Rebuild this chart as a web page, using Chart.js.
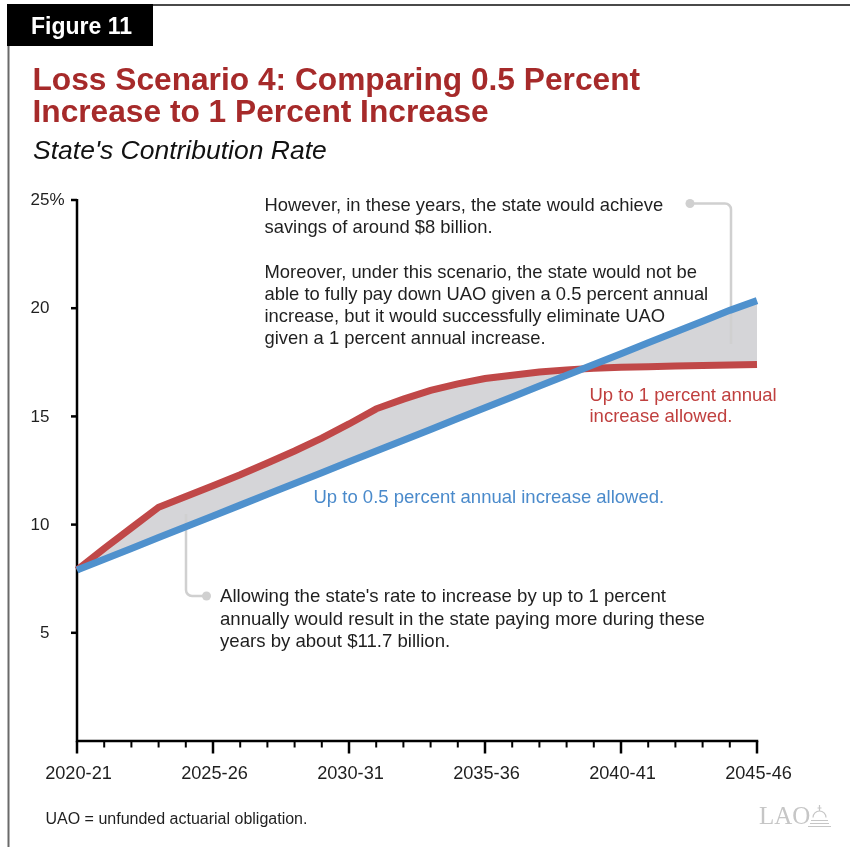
<!DOCTYPE html>
<html>
<head>
<meta charset="utf-8">
<title>Loss Scenario 4</title>
<script src="https://cdn.jsdelivr.net/npm/chart.js@4/dist/chart.umd.min.js"></script>
<style>
  html, body { margin: 0; padding: 0; background: #ffffff; }
  #wrap { width: 850px; height: 847px; position: relative; }
  canvas { display: block; }
</style>
</head>
<body>
<div id="wrap"><canvas id="chart" width="850" height="847"></canvas></div>
<script>
// Fiscal years on the horizontal axis
const seasons = [
  '2020-21', '2021-22', '2022-23', '2023-24', '2024-25', '2025-26',
  '2026-27', '2027-28', '2028-29', '2029-30', '2030-31', '2031-32',
  '2032-33', '2033-34', '2034-35', '2035-36', '2036-37', '2037-38',
  '2038-39', '2039-40', '2040-41', '2041-42', '2042-43', '2043-44',
  '2044-45', '2045-46'
];

// State contribution rate (%) when increases are capped at 0.5 percent a year
const rateHalfPercent = [
  7.9, 8.4, 8.9, 9.4, 9.9, 10.4, 10.9, 11.4, 11.9, 12.4, 12.9, 13.4, 13.9,
  14.4, 14.9, 15.4, 15.9, 16.4, 16.9, 17.4, 17.9, 18.4, 18.9, 19.4, 19.9, 20.35
];

// State contribution rate (%) when increases of up to 1 percent a year are allowed
const rateOnePercent = [
  7.9, 8.9, 9.85, 10.8, 11.3, 11.8, 12.3, 12.85, 13.4, 14.0, 14.65, 15.35, 15.8,
  16.2, 16.5, 16.75, 16.9, 17.05, 17.15, 17.22, 17.27, 17.3, 17.33, 17.35, 17.37, 17.4
];

// Axis tick values and labelled seasons
const yTickValues = [5, 10, 15, 20, 25];
const xLabelSeasons = ['2020-21', '2025-26', '2030-31', '2035-36', '2040-41', '2045-46'];

const SANS = "'Liberation Sans', Arial, Helvetica, sans-serif";
const INK = '#1f1f1f';
const RED_LINE = '#c04848';
const BLUE_LINE = '#4f91cd';
const RED_TEXT = '#c0403f';
const BLUE_TEXT = '#4a8acb';
const BAND = '#d5d5d8';
const CALLOUT = '#d0d0d0';

function textLines(ctx, lines, x, y0, step) {
  lines.forEach((t, i) => ctx.fillText(t, x, y0 + i * step));
}

// Page furniture: frame, figure tag, titles, footnote and logo
const pageDecor = {
  id: 'pageDecor',
  beforeDraw(chart) {
    const ctx = chart.ctx;
    ctx.save();
    ctx.fillStyle = '#ffffff';
    ctx.fillRect(0, 0, chart.width, chart.height);

    // frame lines
    ctx.strokeStyle = '#4a4a4a';
    ctx.lineWidth = 2;
    ctx.beginPath();
    ctx.moveTo(152, 5); ctx.lineTo(850, 5);
    ctx.stroke();
    ctx.strokeStyle = '#6a6a6a';
    ctx.beginPath();
    ctx.moveTo(8.5, 45); ctx.lineTo(8.5, 847);
    ctx.stroke();

    // figure tag
    ctx.fillStyle = '#000000';
    ctx.fillRect(7, 4, 146, 42);
    ctx.fillStyle = '#ffffff';
    ctx.font = 'bold 23px ' + SANS;
    ctx.textBaseline = 'alphabetic';
    ctx.textAlign = 'left';
    ctx.fillText('Figure 11', 31, 34);

    // title and subtitle
    ctx.fillStyle = '#a62a2a';
    ctx.font = 'bold 31.7px ' + SANS;
    ctx.fillText('Loss Scenario 4: Comparing 0.5 Percent', 32.5, 89.5);
    ctx.fillText('Increase to 1 Percent Increase', 32.5, 121.5);
    ctx.fillStyle = '#111111';
    ctx.font = 'italic 26.5px ' + SANS;
    ctx.fillText("State's Contribution Rate", 33, 158.5);

    // footnote
    ctx.fillStyle = INK;
    ctx.font = '16px ' + SANS;
    ctx.fillText('UAO = unfunded actuarial obligation.', 45.5, 824);

    // logo
    ctx.fillStyle = '#c6c6c6';
    ctx.font = "25px 'Liberation Serif', 'Times New Roman', serif";
    ctx.fillText('LAO', 759, 824);
    ctx.strokeStyle = '#c6c6c6';
    ctx.lineWidth = 1.2;
    ctx.beginPath();
    ctx.moveTo(808, 826.5); ctx.lineTo(831, 826.5);
    ctx.moveTo(810, 823.5); ctx.lineTo(829, 823.5);
    ctx.moveTo(811, 820.5); ctx.lineTo(828, 820.5);
    ctx.stroke();
    ctx.beginPath();
    ctx.arc(819.5, 817.5, 6.5, Math.PI, 0);
    ctx.stroke();
    ctx.beginPath();
    ctx.moveTo(819.5, 811); ctx.lineTo(819.5, 805);
    ctx.moveTo(817.5, 808); ctx.lineTo(821.5, 808);
    ctx.stroke();
    ctx.restore();
  },

  // axes with their ticks and labels, under the series lines
  beforeDatasetsDraw(chart) {
    const ctx = chart.ctx;
    const xs = chart.scales.x;
    const ys = chart.scales.y;
    const left = xs.getPixelForValue(0);
    const right = xs.getPixelForValue(seasons.length - 1);
    const base = ys.getPixelForValue(0);
    const top = ys.getPixelForValue(25);
    ctx.save();
    ctx.strokeStyle = '#000000';
    ctx.lineWidth = 2.5;
    ctx.lineCap = 'butt';
    ctx.beginPath();
    ctx.moveTo(left, top - 1); ctx.lineTo(left, base + 1.25);
    ctx.moveTo(left - 1.25, base); ctx.lineTo(right + 1.25, base);
    ctx.stroke();

    // y ticks and labels
    ctx.font = '17px ' + SANS;
    ctx.fillStyle = INK;
    ctx.textBaseline = 'middle';
    yTickValues.forEach(v => {
      const py = ys.getPixelForValue(v);
      ctx.beginPath();
      ctx.moveTo(left - 6, py); ctx.lineTo(left, py);
      ctx.stroke();
      ctx.textAlign = 'right';
      ctx.fillText(String(v), 49.5, py + 0.5);
      if (v === 25) {
        ctx.textAlign = 'left';
        ctx.fillText('%', 49.5, py + 0.5);
      }
    });

    // x ticks: every season, longer at labelled seasons
    seasons.forEach((s, i) => {
      const px = xs.getPixelForValue(i);
      const major = xLabelSeasons.includes(s);
      ctx.lineWidth = major ? 2.5 : 2;
      ctx.beginPath();
      ctx.moveTo(px, base); ctx.lineTo(px, base + (major ? 12.5 : 6.5));
      ctx.stroke();
    });
    ctx.font = '18.2px ' + SANS;
    ctx.textAlign = 'center';
    ctx.textBaseline = 'alphabetic';
    xLabelSeasons.forEach(s => {
      const px = xs.getPixelForValue(seasons.indexOf(s));
      ctx.fillText(s, px + 1.5, 778.5);
    });
    ctx.restore();
  },

  // callout leaders sit over the shaded band but beneath the 0.5 percent line
  beforeDatasetDraw(chart, args) {
    if (args.index !== 0) return;
    const ctx = chart.ctx;
    ctx.save();
    ctx.strokeStyle = CALLOUT;
    ctx.fillStyle = CALLOUT;
    ctx.lineWidth = 2.5;
    ctx.beginPath();
    ctx.moveTo(690, 203.5);
    ctx.arcTo(731, 203.5, 731, 344, 6);
    ctx.lineTo(731, 344);
    ctx.stroke();
    ctx.beginPath();
    ctx.arc(690, 203.5, 4.5, 0, Math.PI * 2);
    ctx.fill();

    ctx.beginPath();
    ctx.moveTo(186, 514);
    ctx.arcTo(186, 596, 206, 596, 6);
    ctx.lineTo(206, 596);
    ctx.stroke();
    ctx.beginPath();
    ctx.arc(206.5, 596, 4.5, 0, Math.PI * 2);
    ctx.fill();
    ctx.restore();
  },

  // notes and series labels
  afterDraw(chart) {
    const ctx = chart.ctx;
    ctx.save();
    ctx.textAlign = 'left';
    ctx.textBaseline = 'alphabetic';
    ctx.font = '18.4px ' + SANS;
    ctx.fillStyle = INK;
    textLines(ctx, [
      'However, in these years, the state would achieve',
      'savings of around $8 billion.'
    ], 264.5, 211, 22.2);
    textLines(ctx, [
      'Moreover, under this scenario, the state would not be',
      'able to fully pay down UAO given a 0.5 percent annual',
      'increase, but it would successfully eliminate UAO',
      'given a 1 percent annual increase.'
    ], 264.5, 277.5, 22.3);
    ctx.font = '18.6px ' + SANS;
    textLines(ctx, [
      "Allowing the state's rate to increase by up to 1 percent",
      'annually would result in the state paying more during these',
      'years by about $11.7 billion.'
    ], 220, 602, 22.5);

    ctx.font = '18.5px ' + SANS;
    ctx.fillStyle = RED_TEXT;
    textLines(ctx, ['Up to 1 percent annual', 'increase allowed.'], 589.5, 400.5, 21.5);
    ctx.fillStyle = BLUE_TEXT;
    ctx.fillText('Up to 0.5 percent annual increase allowed.', 313.5, 502.5);
    ctx.restore();
  }
};

new Chart(document.getElementById('chart'), {
  type: 'line',
  data: {
    labels: seasons,
    datasets: [
      {
        label: 'Up to 0.5 percent annual increase allowed',
        data: rateHalfPercent,
        borderColor: BLUE_LINE,
        borderWidth: 7,
        pointRadius: 0,
        tension: 0,
        fill: false
      },
      {
        label: 'Up to 1 percent annual increase allowed',
        data: rateOnePercent,
        borderColor: RED_LINE,
        borderWidth: 7,
        pointRadius: 0,
        tension: 0,
        fill: '-1',
        backgroundColor: BAND
      }
    ]
  },
  options: {
    responsive: false,
    animation: false,
    devicePixelRatio: 1,
    layout: { padding: { left: 77, right: 93, top: 200, bottom: 106 } },
    plugins: {
      legend: { display: false },
      tooltip: { enabled: false },
      filler: { propagate: false }
    },
    scales: {
      x: { display: false },
      y: { display: false, min: 0, max: 25 }
    }
  },
  plugins: [pageDecor]
});
</script>
</body>
</html>
